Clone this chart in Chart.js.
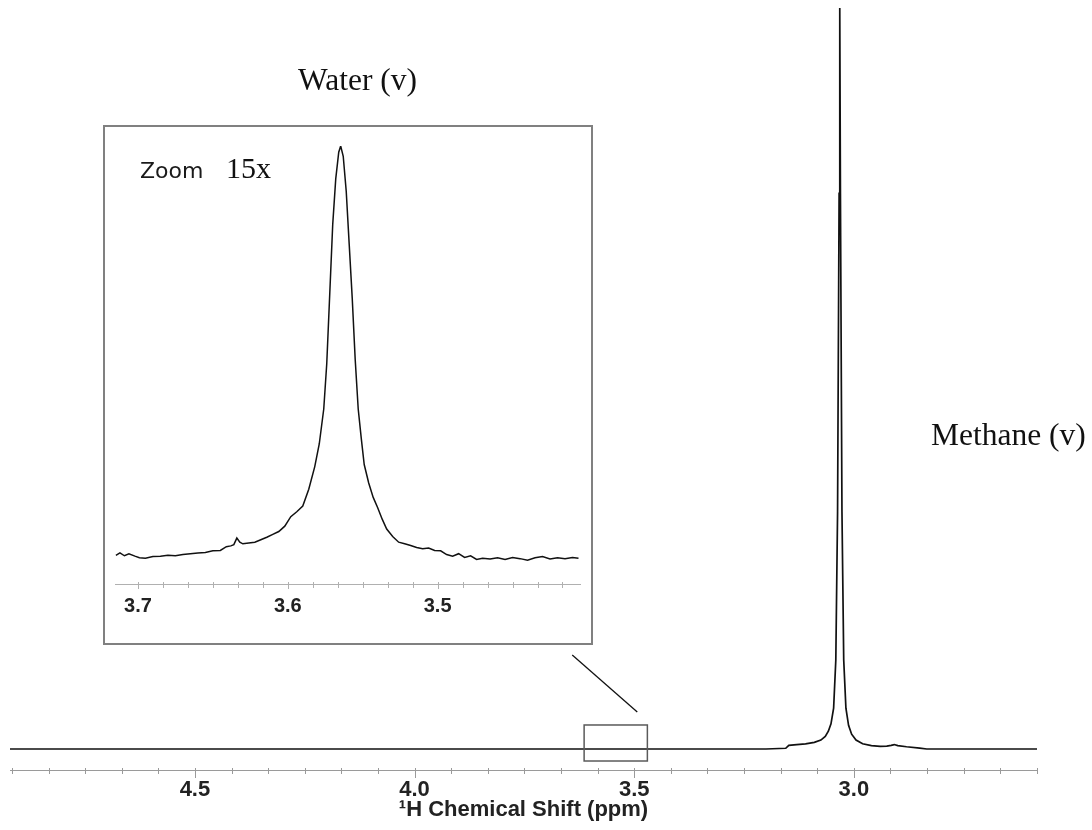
<!DOCTYPE html>
<html>
<head>
<meta charset="utf-8">
<script src="https://cdn.jsdelivr.net/npm/chart.js@4.4.1/dist/chart.umd.min.js"></script>
<style>
  html, body { margin: 0; padding: 0; background: #fff; }
  #wrap { position: relative; width: 1092px; height: 830px; overflow: hidden; }
  #main { position: absolute; left: 0; top: 0; }
  #insetBox { position: absolute; left: 103px; top: 125px; width: 486px; height: 516px; border: 2px solid #808080; background: #fff; }
  #inset { display: block; }
</style>
</head>
<body>
<div id="wrap">
  <canvas id="main" width="1092" height="830"></canvas>
  <div id="insetBox"><canvas id="inset" width="486" height="516"></canvas></div>
</div>
<script>
// main spectrum (ppm, relative intensity)
const mainShift = [4.921, 4.6, 4.2, 3.8, 3.4, 3.2, 3.155, 3.148, 3.13, 3.11, 3.09, 3.075, 3.065, 3.058, 3.052, 3.046, 3.041, 3.037, 3.0335, 3.032, 3.0305, 3.027, 3.023, 3.018, 3.012, 3.005, 2.995, 2.98, 2.96, 2.94, 2.925, 2.915, 2.908, 2.9, 2.88, 2.85, 2.834, 2.7, 2.583]
const mainIntensity = [0, 0, 0, 0, 0, 0, 0.1, 0.5, 0.6, 0.7, 0.9, 1.2, 1.7, 2.4, 3.4, 5.5, 12, 32, 75, 100, 75, 32, 12, 5.5, 3.2, 2.0, 1.2, 0.7, 0.45, 0.35, 0.4, 0.5, 0.6, 0.45, 0.3, 0.12, 0, 0, 0]
const mainTickValues = [4.5, 4.0, 3.5, 3.0]
const mainTickLabels = ["4.5", "4.0", "3.5", "3.0"]

// zoomed water region (15x)
const insetShift = [3.7147, 3.712, 3.709, 3.706, 3.702, 3.699, 3.695, 3.690, 3.685, 3.680, 3.675, 3.670, 3.665, 3.660, 3.655, 3.650, 3.645, 3.641, 3.638, 3.636, 3.634, 3.632, 3.630, 3.626, 3.622, 3.618, 3.614, 3.610, 3.606, 3.602, 3.598, 3.594, 3.590, 3.586, 3.582, 3.579, 3.576, 3.574, 3.572, 3.570, 3.568, 3.566, 3.5647, 3.563, 3.561, 3.559, 3.557, 3.555, 3.553, 3.551, 3.549, 3.546, 3.543, 3.540, 3.537, 3.534, 3.530, 3.526, 3.522, 3.518, 3.514, 3.510, 3.506, 3.502, 3.498, 3.494, 3.490, 3.486, 3.482, 3.478, 3.474, 3.470, 3.465, 3.460, 3.455, 3.450, 3.445, 3.440, 3.435, 3.430, 3.425, 3.420, 3.415, 3.410, 3.406]
const insetIntensity = [0.4, 1.0, 0.3, 0.8, 0.2, -0.2, -0.3, 0.1, 0.2, 0.4, 0.3, 0.6, 0.8, 1.0, 1.1, 1.5, 1.6, 2.5, 2.7, 3.0, 4.6, 3.6, 3.2, 3.4, 3.6, 4.2, 4.8, 5.5, 6.2, 7.5, 9.8, 11.0, 12.4, 16.5, 22.0, 27.5, 36, 47, 64, 81, 92, 98.5, 100, 97.5, 89, 76, 63, 48, 36, 29, 22.5, 18, 14.5, 12.0, 9.2, 6.8, 5.0, 3.6, 3.2, 2.8, 2.3, 2.0, 2.2, 1.6, 1.5, 0.6, 0.2, 0.8, -0.1, 0.3, -0.6, -0.3, -0.5, -0.2, -0.6, -0.1, -0.4, -0.8, -0.2, 0.1, -0.5, -0.2, -0.4, -0.1, -0.3]
const insetTickValues = [3.7, 3.6, 3.5]
const insetTickLabels = ["3.7", "3.6", "3.5"]

const zoomRegion = { from: 3.614, to: 3.470, top: 3.24, bottom: -1.62 }

const toPoints = (xs, ys) => xs.map((x, i) => ({ x: x, y: ys[i] }))

function labelFor(values, labels) {
  return function(v) {
    const i = values.findIndex(t => Math.abs(t - v) < 1e-6)
    return i >= 0 ? labels[i] : ""
  }
}

// minor ticks between the labelled ones
function tickBuilder(values, step) {
  return function(scale) {
    const ticks = []
    const start = values[0] + Math.ceil((scale.max - values[0]) / step) * step
    for (let v = start; v >= scale.min - 1e-9; v -= step) {
      if (v <= scale.max + 1e-9) ticks.push({ value: Math.round(v * 10000) / 10000 })
    }
    scale.ticks = ticks
  }
}

const tickMarks = {
  id: "tickMarks",
  afterDraw(chart, args, opts) {
    const x = chart.scales.x
    const ctx = chart.ctx
    ctx.save()
    ctx.strokeStyle = opts.color
    ctx.lineWidth = 1
    x.ticks.forEach(t => {
      const px = Math.round(x.getPixelForValue(t.value)) + 0.5
      const major = opts.majors.some(m => Math.abs(m - t.value) < 1e-6)
      ctx.beginPath()
      ctx.moveTo(px, x.top - 2)
      ctx.lineTo(px, x.top + (major ? opts.major : opts.minor))
      ctx.stroke()
    })
    ctx.restore()
  }
}

const mainNotes = {
  id: "mainNotes",
  afterDraw(chart) {
    const { ctx, scales: { x, y } } = chart
    ctx.save()
    // zoom box
    ctx.strokeStyle = "#5a5a5a"
    ctx.lineWidth = 1.5
    const x1 = x.getPixelForValue(zoomRegion.from), x2 = x.getPixelForValue(zoomRegion.to)
    const y1 = y.getPixelForValue(zoomRegion.top), y2 = y.getPixelForValue(zoomRegion.bottom)
    ctx.strokeRect(x1, y1, x2 - x1, y2 - y1)
    // connector to inset
    ctx.strokeStyle = "#111"
    ctx.lineWidth = 1.3
    ctx.beginPath()
    ctx.moveTo(x.getPixelForValue(3.641), y.getPixelForValue(12.7))
    ctx.lineTo(x.getPixelForValue(3.493), y.getPixelForValue(5.0))
    ctx.stroke()
    // labels
    ctx.fillStyle = "#111"
    ctx.font = '31.5px "Liberation Serif", "Times New Roman", serif'
    ctx.textAlign = "left"
    ctx.textBaseline = "alphabetic"
    ctx.fillText("Water (v)", 298, 90)
    ctx.textBaseline = "middle"
    ctx.fillText("Methane (v)", 931, 437)
    ctx.restore()
  }
}

const insetNotes = {
  id: "insetNotes",
  afterDraw(chart) {
    const ctx = chart.ctx
    ctx.save()
    ctx.textBaseline = "middle"
    ctx.fillStyle = "#1a1a1a"
    ctx.font = '22px "DejaVu Sans", sans-serif'
    ctx.fillText("Zoom", 35, 45)
    ctx.fillStyle = "#111"
    ctx.font = '30px "Liberation Serif", "Times New Roman", serif'
    ctx.fillText("15x", 121, 43)
    ctx.restore()
  }
}

Chart.defaults.animation = false

new Chart(document.getElementById("main").getContext("2d"), {
  type: "line",
  data: {
    datasets: [{
      data: toPoints(mainShift, mainIntensity),
      borderColor: "#111111",
      borderWidth: 1.7,
      pointRadius: 0,
      tension: 0,
      fill: false
    }]
  },
  options: {
    responsive: false,
    layout: { padding: { left: 10, right: 55, top: 8, bottom: 0 } },
    plugins: {
      legend: { display: false },
      tooltip: { enabled: false },
      tickMarks: { color: "#9a9a9a", major: 8, minor: 4, majors: mainTickValues }
    },
    scales: {
      x: {
        type: "linear",
        reverse: true,
        min: 2.583,
        max: 4.921,
        afterBuildTicks: tickBuilder(mainTickValues, 0.5 / 6),
        afterFit: s => { s.height = 60 },
        grid: { drawOnChartArea: false, color: "rgba(0,0,0,0)", tickLength: 4 },
        border: { display: true, color: "#9a9a9a", width: 1 },
        ticks: {
          autoSkip: false,
          maxRotation: 0,
          padding: 3,
          color: "#222",
          font: { family: "'Liberation Sans Narrow', 'Liberation Sans', Arial, sans-serif", size: 22, weight: "bold" },
          callback: labelFor(mainTickValues, mainTickLabels)
        },
        title: {
          display: true,
          text: "¹H Chemical Shift (ppm)",
          color: "#222",
          padding: { top: 0, bottom: 7 },
          font: { family: "'Liberation Sans Narrow', 'Liberation Sans', Arial, sans-serif", size: 22, weight: "bold" }
        }
      },
      y: { display: false, min: -2.834, max: 100 }
    }
  },
  plugins: [tickMarks, mainNotes]
})

new Chart(document.getElementById("inset").getContext("2d"), {
  type: "line",
  data: {
    datasets: [{
      data: toPoints(insetShift, insetIntensity),
      borderColor: "#111111",
      borderWidth: 1.5,
      pointRadius: 0,
      tension: 0,
      fill: false
    }]
  },
  options: {
    responsive: false,
    layout: { padding: { left: 10, right: 11, top: 19, bottom: 0 } },
    plugins: {
      legend: { display: false },
      tooltip: { enabled: false },
      tickMarks: { color: "#b0b0b0", major: 5, minor: 4, majors: insetTickValues }
    },
    scales: {
      x: {
        type: "linear",
        reverse: true,
        min: 3.405,
        max: 3.7153,
        afterBuildTicks: tickBuilder(insetTickValues, 0.1 / 6),
        afterFit: s => { s.height = 59 },
        grid: { drawOnChartArea: false, color: "rgba(0,0,0,0)", tickLength: 6 },
        border: { display: true, color: "#b0b0b0", width: 1 },
        ticks: {
          autoSkip: false,
          maxRotation: 0,
          padding: 4,
          color: "#222",
          font: { family: "'Liberation Sans', Arial, sans-serif", size: 20, weight: "bold" },
          callback: labelFor(insetTickValues, insetTickLabels)
        }
      },
      y: { display: false, min: -6.57, max: 100 }
    }
  },
  plugins: [tickMarks, insetNotes]
})
</script>
</body>
</html>
